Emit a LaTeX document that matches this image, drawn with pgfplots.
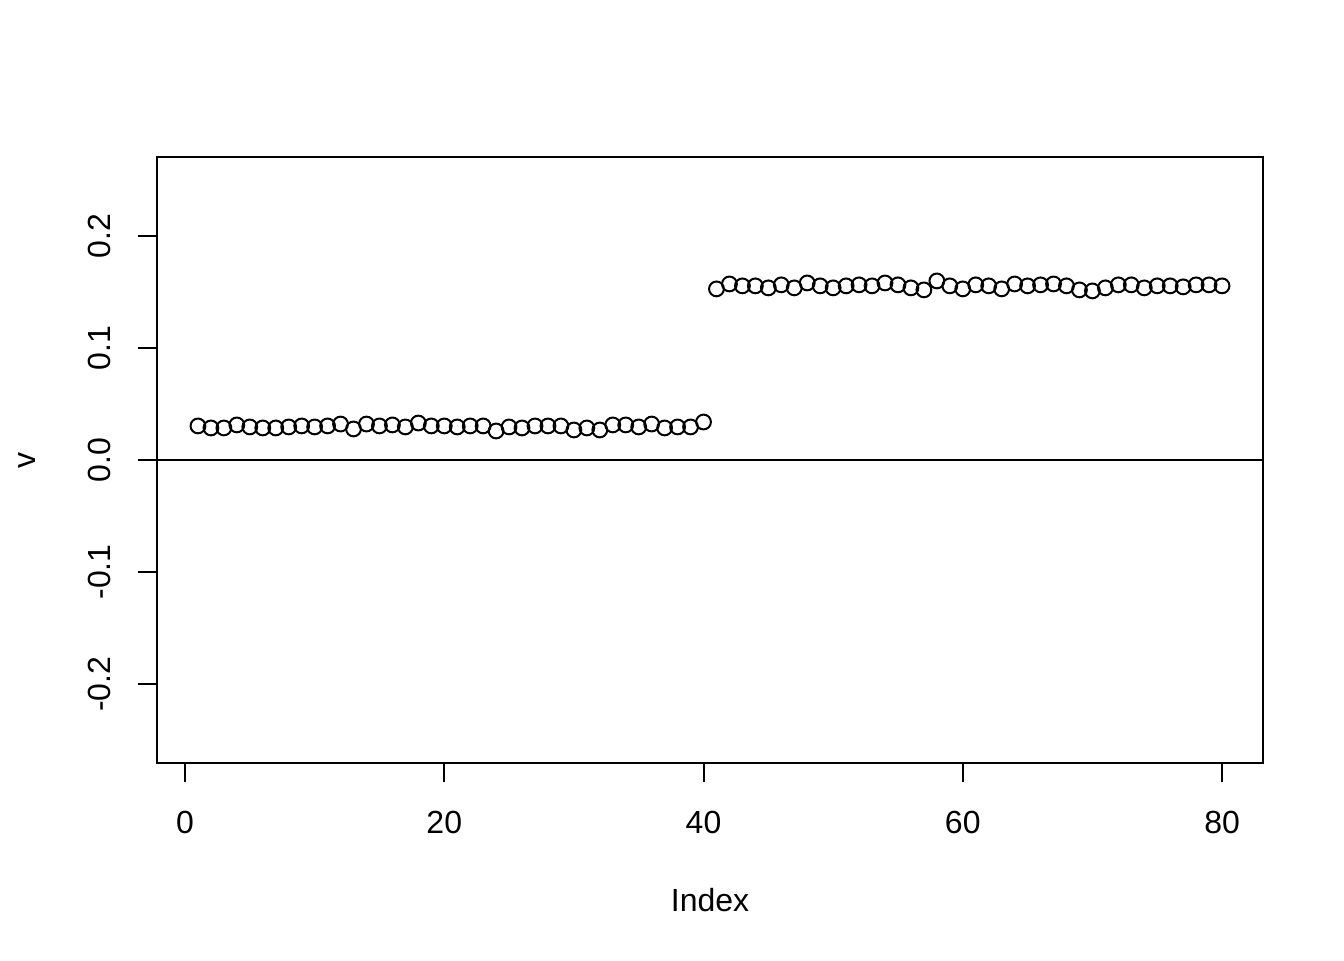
\documentclass[border=0pt]{standalone}
\usepackage{pgfplots}
\pgfplotsset{compat=1.18}
\usepackage{fontspec}
\setmainfont{Liberation Sans}
\begin{document}
\fontsize{16}{19}\selectfont
\begin{tikzpicture}
\useasboundingbox (-78.5pt,-98.5pt) rectangle (593.5pt,381.5pt);
\begin{axis}[
    at={(0,0)}, anchor=south west,
    scale only axis,
    width=553pt, height=303pt,
    xmin=-2.16, xmax=83.16,
    ymin=-0.2704, ymax=0.2704,
    axis line style={line width=1pt},
    every tick/.style={line width=1pt, black},
    tick align=outside,
    major tick length=9.6pt,
    xtick={0,20,40,60,80},
    xticklabels={0,20,40,60,80},
    ytick={-0.2,-0.1,0,0.1,0.2},
    yticklabels={-0.2,-0.1,0.0,0.1,0.2},
    xtick pos=bottom, ytick pos=left,
    tick label style={font=\fontsize{16}{19}\selectfont},
    xticklabel style={anchor=center, yshift=-20pt},
    yticklabel style={xshift=-19pt, rotate=90, anchor=center},
    xlabel={Index}, ylabel={v},
    label style={font=\fontsize{16}{19}\selectfont},
    xlabel style={at={(axis description cs:0.5,-0.226)}, anchor=center},
    ylabel style={at={(axis description cs:-0.1175,0.5)}, anchor=center, rotate=0},
    clip=false,
]
\addplot[black, line width=1pt] coordinates {(-2.16,0) (83.16,0)};
\addplot[only marks, mark=o, mark size=3.7pt, mark options={line width=1pt, fill=white, draw=black}] coordinates {
(1,0.0304) (2,0.0286) (3,0.0286) (4,0.0313) (5,0.0295) (6,0.0286) (7,0.0286) (8,0.0295)
(9,0.0304) (10,0.0295) (11,0.0304) (12,0.0321) (13,0.0277) (14,0.0321) (15,0.0304) (16,0.0313)
(17,0.0295) (18,0.0330) (19,0.0304) (20,0.0304) (21,0.0295) (22,0.0304) (23,0.0304) (24,0.0259)
(25,0.0295) (26,0.0286) (27,0.0304) (28,0.0304) (29,0.0304) (30,0.0268) (31,0.0286) (32,0.0268)
(33,0.0313) (34,0.0313) (35,0.0295) (36,0.0321) (37,0.0286) (38,0.0295) (39,0.0295) (40,0.0339)
(41,0.1527) (42,0.1571) (43,0.1554) (44,0.1554) (45,0.1536) (46,0.1563) (47,0.1536) (48,0.1580)
(49,0.1554) (50,0.1536) (51,0.1554) (52,0.1563) (53,0.1554) (54,0.1580) (55,0.1563) (56,0.1536)
(57,0.1518) (58,0.1598) (59,0.1554) (60,0.1527) (61,0.1563) (62,0.1554) (63,0.1527) (64,0.1571)
(65,0.1554) (66,0.1563) (67,0.1571) (68,0.1554) (69,0.1518) (70,0.1509) (71,0.1536) (72,0.1563)
(73,0.1563) (74,0.1536) (75,0.1554) (76,0.1554) (77,0.1545) (78,0.1563) (79,0.1563) (80,0.1554)
};
\end{axis}
\end{tikzpicture}
\end{document}
